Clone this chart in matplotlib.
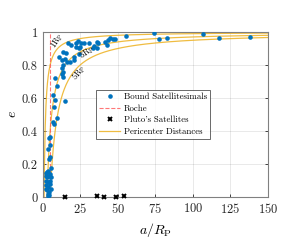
import numpy as np
import matplotlib
matplotlib.use("Agg")
import matplotlib.pyplot as plt

plt.rcParams["font.family"] = ["cmr10", "DejaVu Serif"]
plt.rcParams["mathtext.fontset"] = "cm"
plt.rcParams["axes.formatter.use_mathtext"] = True

# bound satellitesimals (a / R_P, e)
sat_a = [55.2, 17.1, 18.7, 22.2, 23.8, 25.5, 24.9, 27.8, 22.0, 24.4,
         36.4, 37.0, 41.5, 43.7, 44.8, 46.6, 42.6, 36.0, 34.0, 33.5,
         20.7, 24.2, 13.8, 15.6, 11.2, 12.7, 14.9, 18.2, 16.5, 20.9,
         13.8, 12.7, 13.4, 12.7, 13.8, 8.3, 9.8, 6.8, 8.3, 15.1,
         7.4, 9.6, 7.0, 7.6, 74.0, 77.5, 83.0, 107.0, 117.6, 137.9,
         5.0, 4.0, 4.6, 3.6, 5.0, 4.3, 5.4, 2.8, 2.5, 3.5,
         5.2, 2.0, 3.0, 4.5, 5.5, 2.2, 3.3, 4.8, 2.5, 3.8,
         5.0, 2.8, 4.2, 3.3, 4.5, 2.4, 5.3, 3.6, 48.5, 31.0]
sat_e = [0.976, 0.935, 0.921, 0.935, 0.947, 0.935, 0.911, 0.935, 0.907, 0.901,
         0.941, 0.931, 0.941, 0.951, 0.962, 0.956, 0.921, 0.905, 0.918, 0.905,
         0.850, 0.867, 0.881, 0.871, 0.847, 0.830, 0.835, 0.820, 0.820, 0.830,
         0.800, 0.780, 0.759, 0.745, 0.729, 0.719, 0.673, 0.618, 0.588, 0.584,
         0.544, 0.477, 0.457, 0.445, 0.992, 0.956, 0.962, 0.990, 0.962, 0.972,
         0.366, 0.355, 0.315, 0.290, 0.244, 0.230, 0.178, 0.150, 0.145, 0.160,
         0.140, 0.130, 0.120, 0.130, 0.120, 0.100, 0.090, 0.100, 0.070, 0.060,
         0.080, 0.040, 0.030, 0.020, 0.010, 0.050, 0.050, 0.005, 0.955, 0.935]

# Pluto's satellites
pluto_a = [15.0, 36.0, 41.0, 49.0, 54.0]
pluto_e = [0.0, 0.005, 0.0, 0.002, 0.006]

roche_a = 5.0
peri_q = [1, 3, 5]
peri_labels = ["1R$_\\mathrm{P}$", "3R$_\\mathrm{P}$", "5R$_\\mathrm{P}$"]
label_pos = [(9.6, 0.945, 58), (29.5, 0.873, 35), (24.0, 0.75, 52)]

blue = "#0072BD"
gold = "#EDB120"

fig = plt.figure(figsize=(3.0, 2.5), dpi=100)
ax = fig.add_axes([0.142, 0.212, 0.751, 0.66])

ax.plot(sat_a, sat_e, "o", color=blue, markersize=3.3, markeredgewidth=0,
        label="Bound Satellitesimals", zorder=4)
ax.axvline(roche_a, color="#ff5555", linestyle="--", linewidth=0.8, alpha=0.8,
           label="Roche", zorder=3)
ax.plot(pluto_a, pluto_e, "x", color="k", markersize=3, markeredgewidth=1.4,
        label="Pluto's Satellites", zorder=5, clip_on=False)
for i, q in enumerate(peri_q):
    a = np.linspace(q, 150, 600)
    ax.plot(a, 1 - q / a, color=gold, linewidth=0.9, alpha=0.85,
            label="Pericenter Distances" if i == 0 else None, zorder=2)
    x, y, rot = label_pos[i]
    ax.text(x, y, peri_labels[i], rotation=rot, fontsize=6, ha="center",
            va="center", zorder=6)

ax.set_xlim(0, 150)
ax.set_ylim(0, 1)
ax.set_xticks([0, 25, 50, 75, 100, 125, 150])
ax.set_yticks([0, 0.2, 0.4, 0.6, 0.8, 1])
ax.set_yticklabels(["0", "0.2", "0.4", "0.6", "0.8", "1"])
ax.grid(True, color="#000000", alpha=0.1, linewidth=0.6)
ax.tick_params(direction="in", length=2.5, width=0.6, labelsize=9,
               colors="#262626", top=False, right=True)
for s in ax.spines.values():
    s.set_color("#808080")
    s.set_linewidth(0.8)
ax.set_xlabel("$a/R_\\mathrm{P}$", fontsize=10, labelpad=3.5)
ax.set_ylabel("$e$", fontsize=10, labelpad=2)

leg = ax.legend(loc="upper left", bbox_to_anchor=(0.237, 0.65), fontsize=6.3,
                frameon=True, fancybox=False, borderpad=0.35,
                handlelength=2.4, handletextpad=0.4, labelspacing=0.35,
                borderaxespad=0)
leg.get_frame().set_edgecolor("#262626")
leg.get_frame().set_linewidth(0.6)

fig.savefig("out.png", dpi=100)
